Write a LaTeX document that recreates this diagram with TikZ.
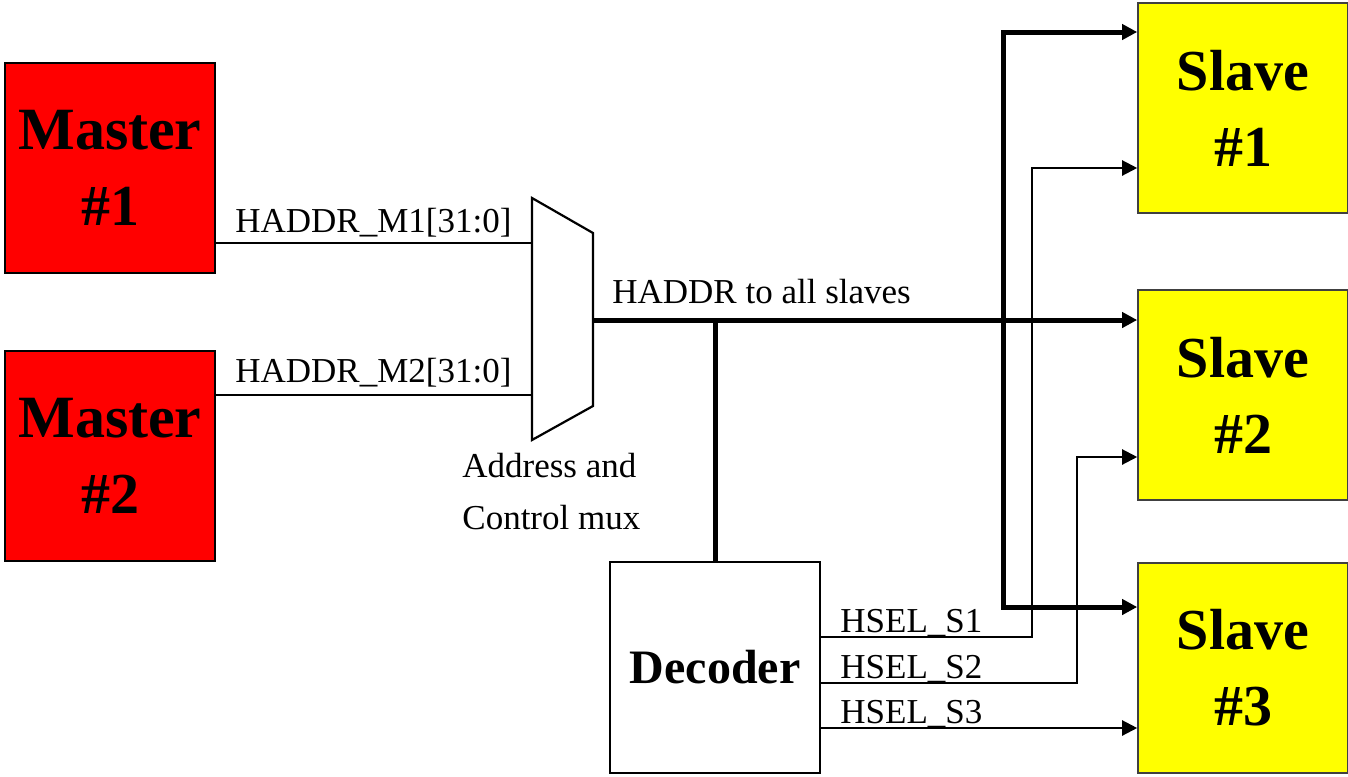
\documentclass[tikz,border=0pt]{standalone}
\usepackage{fontspec}
\setmainfont{Liberation Serif}
\usetikzlibrary{arrows.meta}
\definecolor{masterred}{RGB}{255,0,0}
\definecolor{slaveyellow}{RGB}{255,255,0}

\begin{document}
\begin{tikzpicture}[x=0.5pt,y=-0.5pt,>={Triangle[length=7.5pt,width=7.5pt]},
        master/.style={draw=black,line width=0.8pt,fill=masterred,minimum width=105pt,minimum height=105pt,
            align=center,inner sep=0pt,font=\fontsize{29}{38}\selectfont\bfseries},
        slave/.style={master,fill=slaveyellow,draw=black!75},
        block/.style={draw=black,line width=0.8pt,minimum width=105pt,minimum height=105.5pt,
            inner sep=0pt,font=\fontsize{24}{28}\selectfont\bfseries},
        lbl/.style={inner sep=0pt,font=\fontsize{17.5}{26}\selectfont},
        sig/.style={line width=1.1pt},
        bus/.style={line width=2.5pt}]
        \useasboundingbox (0,0) rectangle (1348,776);
        \node[master] (m1) at (110,168) {\fontsize{30}{38}\selectfont Master\\\#1};
        \node[master] (m2) at (110,456) {\fontsize{30}{38}\selectfont Master\\\#2};
        \node[slave] (s1) at (1243,108) {Slave\\\#1};
        \node[slave] (s2) at (1243,395) {Slave\\\#2};
        \node[slave] (s3) at (1243,668) {Slave\\\#3};
        \node[block] (dec) at (715,667.5) {Decoder};
        \coordinate (mux-a) at (532,198);
        \coordinate (mux-b) at (593,233);
        \coordinate (mux-c) at (593,406);
        \coordinate (mux-d) at (532,440);
        \coordinate (in1) at (532,243);
        \coordinate (in2) at (532,395);
        \coordinate (mux-out) at (593,320);
        \draw[sig] (mux-a) -- (mux-b) -- (mux-c) -- (mux-d) -- cycle;
        \draw[sig] (m1.east |- in1) -- (in1);
        \draw[sig] (m2.east |- in2) -- (in2);
        \coordinate (tap) at (dec.north |- mux-out);
        \draw[bus,->] (mux-out) -- (s2.west |- mux-out);
        \draw[bus] (tap) -- (dec.north);
        \coordinate (bus-top) at (1003,32);
        \coordinate (bus-bot) at (1003,607);
        \draw[bus,<->] (s1.west |- bus-top) -- (bus-top) -- (bus-bot) -- (s3.west |- bus-bot);
        \coordinate (sel1) at (1032,637);
        \coordinate (sel1-up) at (1032,168);
        \coordinate (sel2) at (1077,683);
        \coordinate (sel2-up) at (1077,457);
        \coordinate (sel3) at (900,728);
        \draw[sig,->] (dec.east |- sel1) -- (sel1) -- (sel1-up) -- (s1.west |- sel1-up);
        \draw[sig,->] (dec.east |- sel2) -- (sel2) -- (sel2-up) -- (s2.west |- sel2-up);
        \draw[sig,->] (dec.east |- sel3) -- (s3.west |- sel3);
        \node[lbl,anchor=base west] (in1-lbl) at (235,232) {HADDR\_M1[31:0]};
        \node[lbl,anchor=base west] (in2-lbl) at (235,382) {HADDR\_M2[31:0]};
        \node[lbl,anchor=base west] (out-lbl) at (612,303) {HADDR to all slaves};
        \node[lbl,align=left,anchor=north west] (mux-lbl) at (462,453) {Address and\\Control mux};
        \node[lbl,anchor=base west] (sel1-lbl) at (840,632) {HSEL\_S1};
        \node[lbl,anchor=base west] (sel2-lbl) at (840,678) {HSEL\_S2};
        \node[lbl,anchor=base west] (sel3-lbl) at (840,723) {HSEL\_S3};
\end{tikzpicture}
\end{document}
